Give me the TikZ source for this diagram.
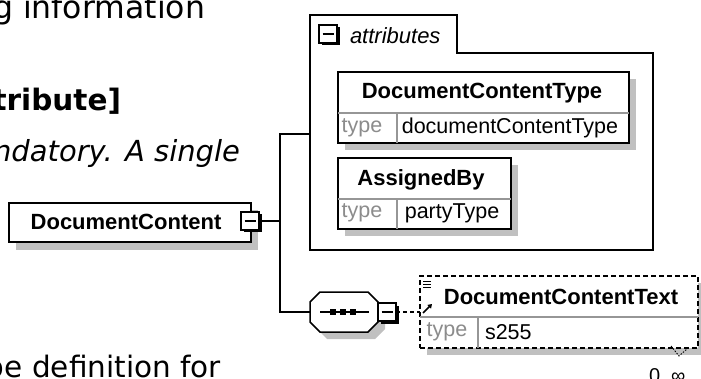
\documentclass[tikz,border=0pt]{standalone}
\usepackage{fontspec}
\setmainfont{Liberation Sans}
\newfontfamily\bodyfont{DejaVu Sans}
\usetikzlibrary{calc,shadows,arrows.meta}
\definecolor{shadowgray}{RGB}{192,192,192}
\definecolor{typegray}{RGB}{140,140,140}
\definecolor{divgray}{RGB}{150,150,150}
\begin{document}
\begin{tikzpicture}[x=1pt,y=-1pt,
  every node/.style={inner sep=0pt, outer sep=0pt},
  elbox/.style={draw=black, line width=1.5pt, fill=white, rectangle, anchor=north west,
    drop shadow={shadow xshift=7pt, shadow yshift=-7pt, fill=shadowgray, opacity=1}},
  conn/.style={line width=1.5pt, draw=black},
  divline/.style={line width=1.2pt, draw=divgray},
  minusb/.style={draw=black, line width=1.2pt, fill=white, minimum size=18pt,
    drop shadow={shadow xshift=2.5pt, shadow yshift=-2.5pt, fill=black, opacity=1},
    path picture={\draw[line width=1.3pt] ([xshift=3.5pt]path picture bounding box.west) -- ([xshift=-3.5pt]path picture bounding box.east);}},
  bodytxt/.style={font=\bodyfont\fontsize{31.5}{36}\selectfont, anchor=base east},
  nametxt/.style={font=\bfseries\fontsize{22}{26}\selectfont},
  typetxt/.style={font=\fontsize{21.5}{26}\selectfont, text=typegray},
  valtxt/.style={font=\fontsize{21.5}{26}\selectfont},
]
\useasboundingbox (0,0) rectangle (701,379);
\clip (0,0) rectangle (701,379);
\fill[white] (0,0) rectangle (701,379);

% body text fragments
\node[bodytxt] (t1) at (205,19) {g information};
\node[bodytxt, font=\bodyfont\bfseries\fontsize{29.5}{34}\selectfont] (t2) at (121,111) {tribute]};
\node[bodytxt, font=\bodyfont\itshape\fontsize{29}{34}\selectfont] (t3) at (240,162) {ndatory. A single};
\node[bodytxt, font=\bodyfont\fontsize{29.5}{34}\selectfont] (t4) at (221,377) {be definition for};

% attributes group
\node[anchor=north west, minimum width=343pt, minimum height=235pt] (attr) at (310,15) {};
\draw[line width=1.5pt] (310,15) -- (457,15) -- (457,53) -- (653,53) -- (653,250) -- (310,250) -- cycle;
\node[minusb] (am) at (328,34) {};
\node[font=\itshape\fontsize{22}{26}\selectfont, anchor=west] (attrlbl) at (350,36) {attributes};

% DocumentContentType
\node[elbox, minimum width=291pt, minimum height=71pt] (dctype) at (338,72) {};
\draw[divline] (338,113) -- (629,113);
\draw[divline] (397,113) -- (397,143);
\node[nametxt] (dctypen) at (482,93) {DocumentContentType};
\node[typetxt] (dctypet) at (362,128) {type};
\node[valtxt] (dctypev) at (510,128) {documentContentType};

% AssignedBy
\node[elbox, minimum width=173pt, minimum height=71pt] (asg) at (338,158) {};
\draw[divline] (338,199) -- (511,199);
\draw[divline] (397,199) -- (397,229);
\node[nametxt] (asgn) at (421,180) {AssignedBy};
\node[typetxt] (asgt) at (362,213) {type};
\node[valtxt] (asgv) at (452,213) {partyType};

% DocumentContent
\node[elbox, minimum width=242pt, minimum height=39pt, drop shadow={shadow xshift=7pt, shadow yshift=-8pt, fill=shadowgray, opacity=1}] (dc) at (9,203) {};
\node[nametxt] (dcn) at (126,222) {DocumentContent};
\node[minusb] (dcm) at (250,221) {};

% sequence compositor
\node[minimum width=68pt, minimum height=40pt] (seq) at (344,312) {};
\fill[shadowgray, shift={(7,7)}] (320,292) -- (368,292) -- (378,302) -- (378,322) -- (368,332) -- (320,332) -- (310,322) -- (310,302) -- cycle;
\draw[line width=1.5pt, fill=white] (320,292) -- (368,292) -- (378,302) -- (378,322) -- (368,332) -- (320,332) -- (310,322) -- (310,302) -- cycle;
\draw[line width=1.2pt] (320,312) -- (369,312);
\foreach \xx in {333,343,353} \fill (\xx-3,309) rectangle (\xx+3,315);
\node[minusb] (sqm) at (387,312) {};

% DocumentContentText (optional, dashed)
\node[elbox, dashed, dash pattern=on 5pt off 3pt, minimum width=278pt, minimum height=72pt] (dct) at (420,276) {};
\draw[divline] (420,317) -- (698,317);
\draw[divline] (478,317) -- (478,348);
\node[nametxt] (dctn) at (561,297) {DocumentContentText};
\node[typetxt] (dctt) at (447,332) {type};
\node[valtxt, anchor=west] (dctv) at (485,332) {s255};
\foreach \yy in {281,284,287} \draw[line width=0.9pt] (423,\yy) -- (431,\yy);
\draw[line width=1.6pt, -{Triangle[length=4pt,width=5pt]}] (423,313) -- (432,304);
\draw[line width=0.9pt, dash pattern=on 1.5pt off 1.5pt] (671,346) -- (679,356) -- (687,349);
\node[font=\fontsize{20}{24}\selectfont, anchor=base west] (occ) at (649,382.5) {0..∞};

% connectors
\coordinate (jn) at (280,221);
\draw[conn] (dcm.east) -- (jn);
\draw[conn] ($(attr.north west)+(0,119)$) -| (jn) |- (seq.west);
\draw[conn, dashed, dash pattern=on 4pt off 3pt] (sqm.east) -- (dct.west);
\end{tikzpicture}
\end{document}
